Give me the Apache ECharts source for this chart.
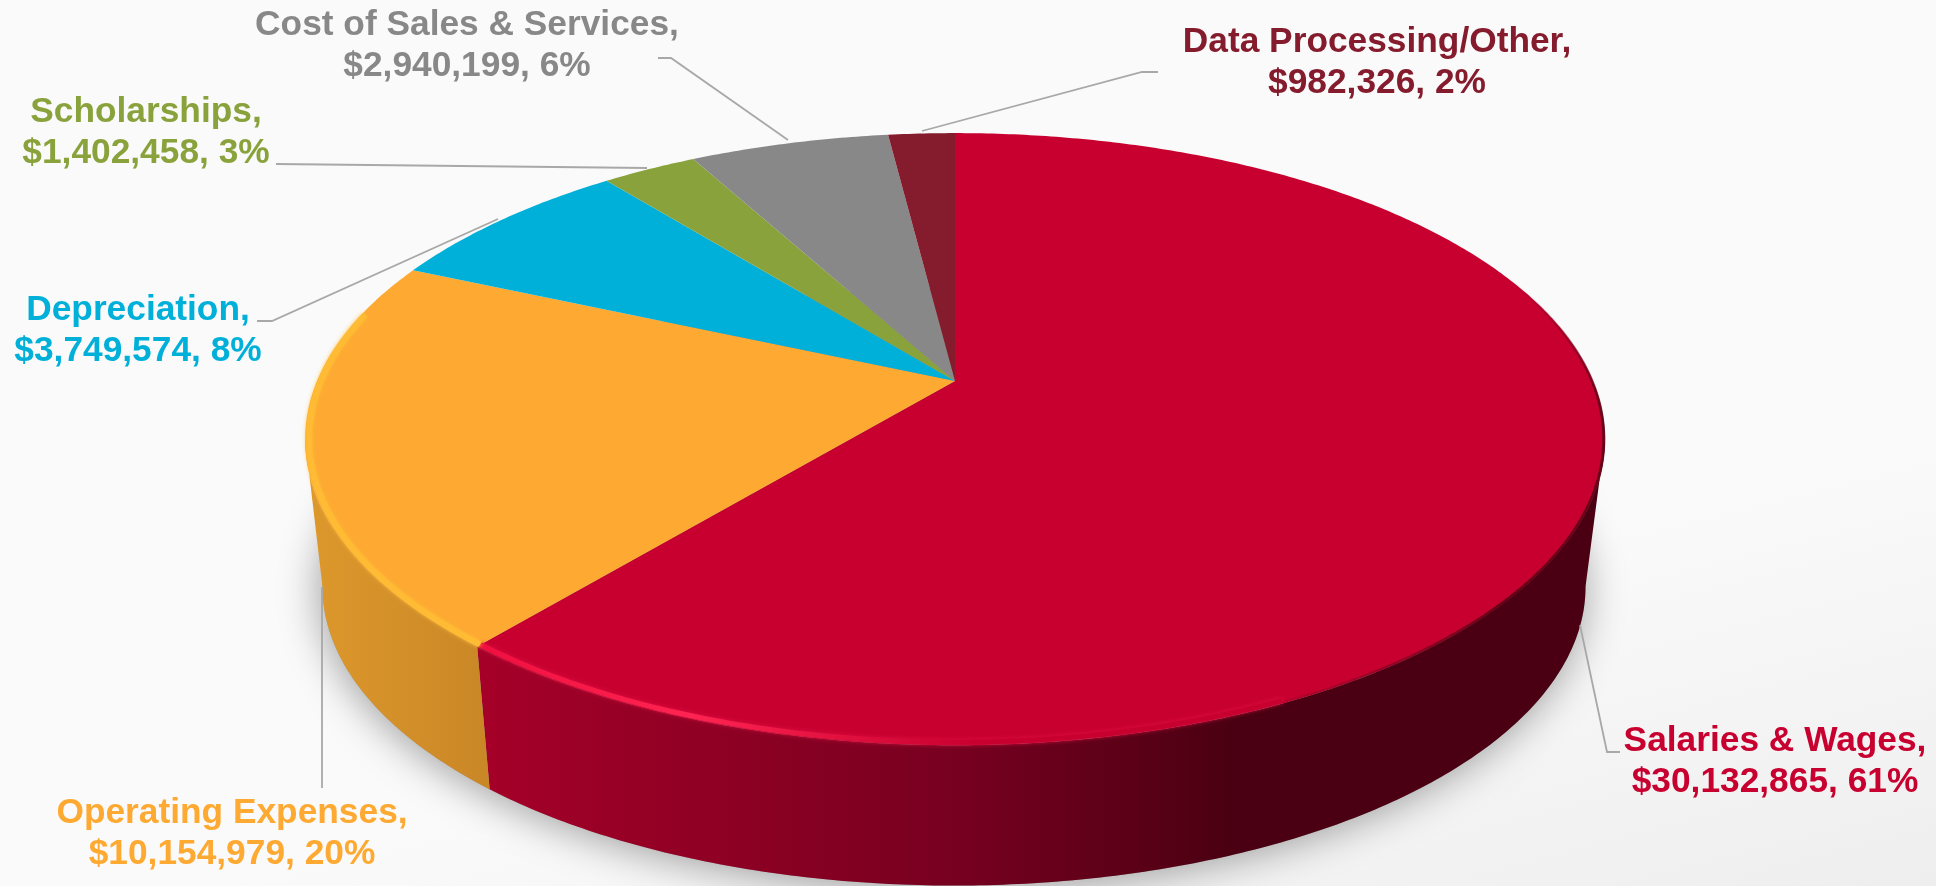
<!DOCTYPE html>
<html>
<head>
<meta charset="utf-8">
<title>Expenses</title>
<script src="https://cdn.jsdelivr.net/npm/echarts@6/dist/echarts.min.js"></script>
<style>
  html, body { margin: 0; padding: 0; background: #fafafa; }
  #grafico { width: 1936px; height: 886px; }
</style>
</head>
<body>
<div id="grafico"></div>
<script>
// Chart data, clockwise from 12 o'clock
const categorias = ["Salaries & Wages", "Operating Expenses", "Depreciation", "Scholarships", "Cost of Sales & Services", "Data Processing/Other"];
const valores = [30132865, 10154979, 3749574, 1402458, 2940199, 982326];
const percentuais = [61, 20, 8, 3, 6, 2];
const cores = ["#c80030", "#fda932", "#00b0d9", "#8aa23c", "#888888", "#851c2e"];

// Label centres and leader lines, one per category
const rotulosPos = [[1775, 762], [232, 834], [138, 331], [146, 133], [467, 46], [1377, 63]];
const linhas = [
  [[1580, 625], [1607, 752], [1620, 752]],
  [[322, 587], [322, 788]],
  [[498, 219], [272, 321], [257, 321]],
  [[647, 168], [276, 164]],
  [[788, 140], [671, 58], [658, 58]],
  [[922, 131], [1142, 72], [1158, 72]]
];

// The disc seen in perspective: the apex sits above the centre of the ellipse
const topo = { cx: 955, cy: 381, a: 638, b: 295, k: 0.19 };
const base = { cx: 954, cy: 530, a: 620, b: 288, k: 0.19 };
// Angles where the wall meets the left and right silhouette
const tangenteDir = Math.acos(-topo.k);
const tangenteEsq = Math.PI * 2 - tangenteDir;

const total = valores.reduce((a, b) => a + b, 0);
const angulos = [0];
valores.forEach((v) => angulos.push(angulos[angulos.length - 1] + (v / total) * Math.PI * 2));

function projetar(disco, t) {
  const u = Math.sin(t), v = -Math.cos(t);
  const w = 1 - disco.k * v;
  return [disco.cx + (disco.a * u) / w, disco.cy + (disco.b * v) / w];
}

function arco(disco, t0, t1) {
  const n = Math.max(2, Math.ceil(Math.abs(t1 - t0) / 0.01));
  const pts = [];
  for (let i = 0; i <= n; i++) pts.push(projetar(disco, t0 + ((t1 - t0) * i) / n));
  return pts;
}

function gradienteX(paradas) {
  return {
    type: "linear", x: 300, y: 0, x2: 1600, y2: 0, global: true,
    colorStops: paradas.map((p) => ({ offset: p[0], color: p[1] }))
  };
}

// Side wall colours by category index (only the front slices show a wall)
const paredes = {
  0: gradienteX([[0, "#b0002a"], [0.14, "#a50028"], [0.5, "#780020"], [0.72, "#4a0012"], [1, "#4a0012"]]),
  1: gradienteX([[0, "#de992c"], [0.15, "#c98626"], [1, "#c98626"]])
};

// Soft dark edge on the right of the disc, fading at both ends
const bordaEscura = {
  type: "linear", x: 0, y: 280, x2: 0, y2: 720, global: true,
  colorStops: [
    { offset: 0, color: "rgba(90,0,20,0)" },
    { offset: 0.3, color: "rgba(90,0,20,0.85)" },
    { offset: 0.75, color: "rgba(90,0,20,0.85)" },
    { offset: 1, color: "rgba(90,0,20,0)" }
  ]
};

const brilhos = [
  { cor: bordaEscura, sombra: "rgba(0,0,0,0)", de: 1.1, ate: 3.0, largura: 3, recuo: 1 },
  { cor: gradienteX([[0.14, "#f01040"], [0.3, "#ff2452"], [0.42, "#e0103e"], [0.52, "#c80030"], [1, "#c80030"]]), sombra: "#e0103f", de: 2.7, ate: angulos[1], largura: 5, recuo: 4 },
  { cor: "#ffbb33", sombra: "#ffbb33", de: angulos[1], ate: 4.95, largura: 6, recuo: 4 }
];

function renderSombra(params, api) {
  return {
    type: "polygon",
    shape: { points: arco(base, 0, Math.PI * 2) },
    style: { fill: "#999", shadowColor: "rgba(0,0,0,0.38)", shadowBlur: 42, shadowOffsetX: -2, shadowOffsetY: 3 },
    silent: true
  };
}

function renderParede(params, api) {
  const i = api.value(0);
  if (!paredes[i]) return null;
  // only the part of the wall facing the viewer
  const t0 = Math.max(angulos[i], tangenteDir);
  const t1 = Math.min(angulos[i + 1], tangenteEsq);
  const a = arco(topo, t0, t1);
  const b = arco(base, t1, t0);
  return {
    type: "polygon",
    shape: { points: a.concat(b) },
    style: { fill: paredes[i] },
    silent: true
  };
}

function renderTopo(params, api) {
  const i = api.value(0);
  const pts = [[topo.cx, topo.cy]].concat(arco(topo, angulos[i], angulos[i + 1]));
  return {
    type: "polygon",
    shape: { points: pts },
    style: { fill: api.visual("color") },
    silent: true
  };
}

function renderBrilho(params, api) {
  const b = brilhos[params.dataIndex];
  const menor = { cx: topo.cx, cy: topo.cy, a: topo.a - b.recuo, b: topo.b - b.recuo * 0.6, k: topo.k };
  return {
    type: "polyline",
    shape: { points: arco(menor, b.de, b.ate) },
    style: { fill: "none", stroke: b.cor, lineWidth: b.largura, shadowColor: b.sombra, shadowBlur: 4 },
    silent: true
  };
}

function renderRotulo(params, api) {
  const i = api.value(0);
  const txt = categorias[i] + ",\n$" + valores[i].toLocaleString("en-US") + ", " + percentuais[i] + "%";
  return {
    type: "group",
    silent: true,
    children: [
      {
        type: "polyline",
        shape: { points: linhas[i] },
        style: { fill: "none", stroke: "#a8a8a8", lineWidth: 1.8 }
      },
      {
        type: "text",
        x: rotulosPos[i][0],
        y: rotulosPos[i][1],
        style: {
          text: txt,
          fill: cores[i],
          font: "bold 35.3px 'Liberation Sans', Arial, sans-serif",
          lineHeight: 41.5,
          align: "center",
          verticalAlign: "middle"
        }
      }
    ]
  };
}

const dadosIndice = categorias.map((c, i) => ({ value: [i, valores[i]], itemStyle: { color: cores[i] } }));

const grafico = echarts.init(document.getElementById("grafico"), null, { renderer: "canvas" });
grafico.setOption({
  animation: false,
  backgroundColor: {
    type: "linear", x: 0.5165, y: 0.771, x2: 0.57, y2: 1.235,
    colorStops: [{ offset: 0, color: "#fafafa" }, { offset: 1, color: "#eeeeee" }]
  },
  series: [
    { type: "custom", coordinateSystem: "none", z: 1, data: [0], renderItem: renderSombra },
    { type: "custom", coordinateSystem: "none", z: 2, data: dadosIndice, renderItem: renderParede },
    { type: "custom", coordinateSystem: "none", z: 3, data: dadosIndice, renderItem: renderTopo },
    { type: "custom", coordinateSystem: "none", z: 4, data: [0, 1, 2], renderItem: renderBrilho },
    { type: "custom", coordinateSystem: "none", z: 5, data: dadosIndice, renderItem: renderRotulo }
  ]
});
</script>
</body>
</html>
